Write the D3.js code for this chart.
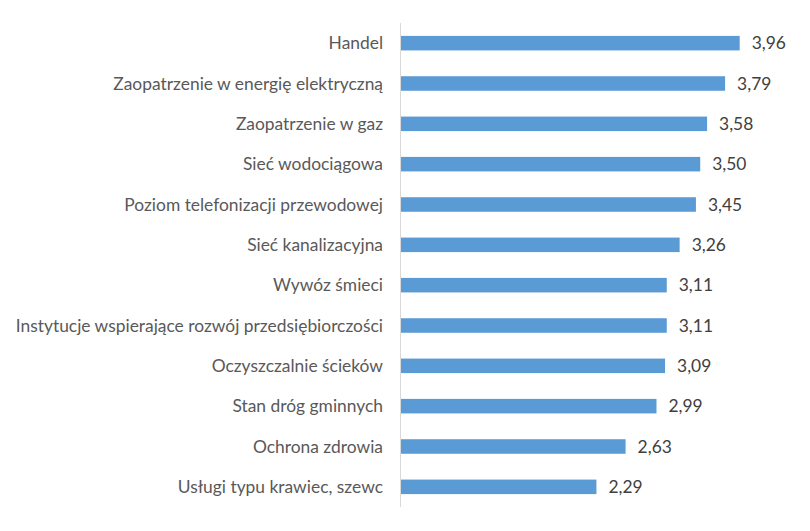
<!DOCTYPE html>
<html><head><meta charset="utf-8">
<script src="https://cdn.jsdelivr.net/npm/d3@7"></script>
<style>body{margin:0;background:#fff}</style>
</head><body>
<svg id="c" width="810" height="531"></svg>
<script>
const categories = ["Handel","Zaopatrzenie w energię elektryczną","Zaopatrzenie w gaz","Sieć wodociągowa","Poziom telefonizacji przewodowej","Sieć kanalizacyjna","Wywóz śmieci","Instytucje wspierające rozwój przedsiębiorczości","Oczyszczalnie ścieków","Stan dróg gminnych","Ochrona zdrowia","Usługi typu krawiec, szewc"];
const values = [3.96,3.79,3.58,3.50,3.45,3.26,3.11,3.11,3.09,2.99,2.63,2.29];

const svg = d3.select("#c");
const x = d3.scaleLinear().domain([0,4.5]).range([400,786]);
const y = d3.scaleBand().domain(categories).range([23,507]).paddingInner(0.64).paddingOuter(0.32);
const font = "Lato, 'Open Sans', sans-serif";
const fmt = v => d3.format(".2f")(v).replace(".", ",");

svg.selectAll("rect.bar").data(values).join("rect")
  .attr("x", x(0)+1).attr("y",(d,i)=>y(categories[i]))
  .attr("width", d=>x(d)-x(0)-1).attr("height", y.bandwidth())
  .attr("fill","#5B9BD5");

svg.append("line").attr("x1",400.5).attr("x2",400.5).attr("y1",23).attr("y2",507)
  .attr("stroke","#d9d9d9").attr("stroke-width",1);

svg.selectAll("text.cat").data(categories).join("text")
  .attr("x",383).attr("y",d=>y(d)+y.bandwidth()/2)
  .attr("dy","0.35em").attr("text-anchor","end")
  .attr("font-family",font).attr("font-size",17.4).attr("fill","#595959").text(d=>d);

svg.selectAll("text.val").data(values).join("text")
  .attr("x",d=>x(d)+12).attr("y",(d,i)=>y(categories[i])+y.bandwidth()/2)
  .attr("dy","0.35em")
  .attr("font-family",font).attr("font-size",17.4).attr("fill","#404040").text(fmt);
</script>
</body></html>
